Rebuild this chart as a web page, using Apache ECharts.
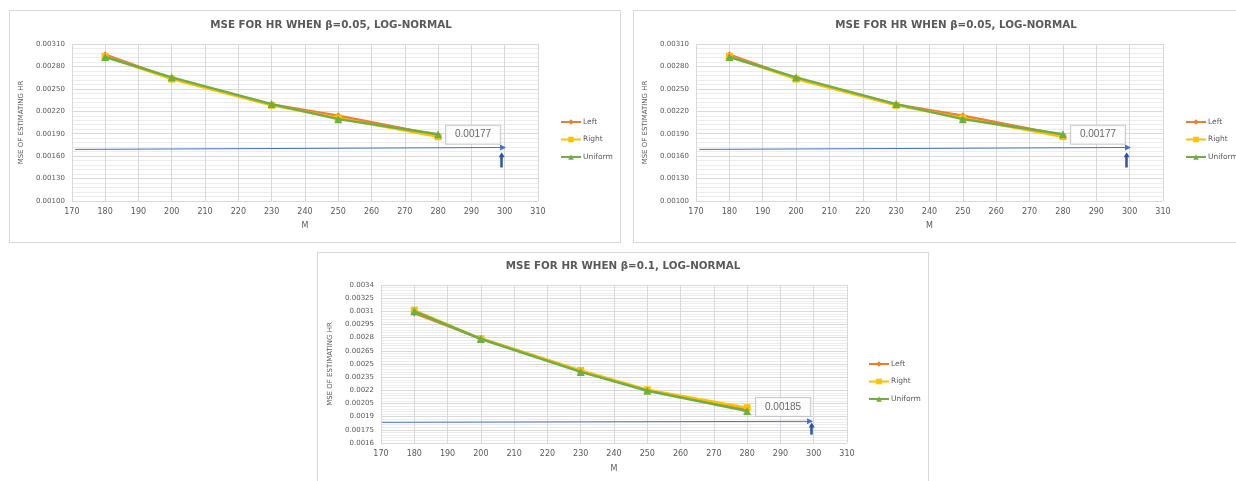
<!DOCTYPE html>
<html>
<head>
<meta charset="utf-8">
<script src="https://cdn.jsdelivr.net/npm/echarts@6/dist/echarts.min.js"></script>
<style>
  html, body { margin: 0; padding: 0; background: #fff; width: 1236px; height: 481px; overflow: hidden; }
  .panel { position: absolute; border: 1px solid #d9d9d9; background: #fff; }
</style>
</head>
<body>
<div id="p1" class="panel" style="left:9px;top:10px;width:610px;height:231px;"></div>
<div id="p2" class="panel" style="left:633px;top:10px;width:604px;height:231px;"></div>
<div id="p3" class="panel" style="left:317px;top:252px;width:610px;height:240px;"></div>
<script>
// ---- data ----
const mValues = [180, 200, 230, 250, 280];
const seriesNames = ['Left', 'Right', 'Uniform'];

const leftBeta005    = [0.002957, 0.00264, 0.00229, 0.00214, 0.00188];
const rightBeta005   = [0.002935, 0.00263, 0.00228, 0.00211, 0.00186];
const uniformBeta005 = [0.002926, 0.002654, 0.002296, 0.002095, 0.001894];

const leftBeta01    = [0.00308, 0.00279, 0.00242, 0.0022, 0.00198];
const rightBeta01   = [0.003112, 0.00279, 0.002426, 0.002206, 0.002002];
const uniformBeta01 = [0.0031, 0.002785, 0.00241, 0.002195, 0.001964];

const titleBeta005 = 'MSE FOR HR WHEN β=0.05, LOG-NORMAL';
const titleBeta01  = 'MSE FOR HR WHEN β=0.1, LOG-NORMAL';
const yAxisTitle = 'MSE OF ESTIMATING HR';
const xAxisTitle = 'M';

// annotation (target line, arrow, value box) in data units
const targetLabelBeta005 = '0.00177';
const targetLineBeta005 = [[171, 0.00169], [299.5, 0.001716]];
const upArrowBeta005 = [[299.1, 0.001448], [299.1, 0.001617]];
const labelPosBeta005 = [290.5, 0.001887];

const targetLabelBeta01 = '0.00185';
const targetLineBeta01 = [[170.3, 0.001836], [298.9, 0.001847]];
const upArrowBeta01 = [[299.4, 0.001695], [299.4, 0.001805]];
const labelPosBeta01 = [290.8, 0.00201];

const yRangeBeta005 = [0.001, 0.0031, 0.0003];
const yRangeBeta01 = [0.0016, 0.0034, 0.00015];

// ---- styles ----
const colors = ['#ED7D31', '#FFC000', '#70AD47'];
const symbols = ['diamond', 'rect', 'triangle'];
const symbolSizes = [7, 7, 8];
const txt = '#595959';

function build(cfg) {
  const lineSeries = seriesNames.map((name, i) => ({
    name: name,
    type: 'line',
    data: mValues.map((m, j) => [m, cfg.values[i][j]]),
    symbol: symbols[i],
    symbolSize: symbolSizes[i],
    showAllSymbol: true,
    lineStyle: { color: colors[i], width: 2.5 },
    itemStyle: { color: colors[i] },
    z: 3 + i,
    animation: false
  }));
  const helper = {
    type: 'scatter',
    name: 'annot',
    data: [cfg.labelPos],
    symbolSize: 0,
    z: 10,
    animation: false,
    silent: true,
    label: {
      show: true,
      position: 'inside',
      formatter: cfg.targetLabel,
      fontFamily: 'Liberation Sans',
      fontSize: 10,
      color: '#404040',
      backgroundColor: '#fff',
      borderColor: '#bfbfbf',
      borderWidth: 1,
      padding: [4, 9, 4, 9]
    },
    markLine: {
      silent: true,
      animation: false,
      symbol: ['none', 'triangle'],
      symbolSize: [6, 6],
      label: { show: false },
      lineStyle: { color: '#4472C4', width: 1, type: 'solid' },
      data: [[{ coord: cfg.targetLine[0] }, { coord: cfg.targetLine[1] }]]
    }
  };
  const helper2 = {
    type: 'scatter',
    name: 'arrow',
    data: [],
    z: 10,
    animation: false,
    silent: true,
    markLine: {
      silent: true,
      animation: false,
      symbol: ['none', 'triangle'],
      symbolSize: [6, 5],
      label: { show: false },
      lineStyle: { color: '#2F5597', width: 2.5, type: 'solid' },
      data: [[{ coord: cfg.upArrow[0] }, { coord: cfg.upArrow[1] }]]
    }
  };
  return {
    animation: false,
    textStyle: { fontFamily: 'DejaVu Sans' },
    graphic: [{
      type: 'text',
      x: cfg.titleX,
      y: cfg.titleY,
      style: {
        text: cfg.title,
        fill: txt,
        font: 'bold 10.3px "DejaVu Sans"',
        textAlign: 'center',
        textVerticalAlign: 'middle'
      }
    }],
    legend: {
      data: seriesNames,
      orient: 'vertical',
      left: cfg.legendLeft,
      top: cfg.legendTop,
      itemWidth: 20,
      itemHeight: 7,
      itemGap: 9.5,
      padding: 0,
      textStyle: { fontSize: 7.5, color: txt, fontFamily: 'DejaVu Sans', padding: [0, 0, 0, -3] }
    },
    grid: {
      left: cfg.grid[0], top: cfg.grid[1], width: cfg.grid[2], height: cfg.grid[3],
      containLabel: false
    },
    xAxis: {
      type: 'value',
      min: 170, max: 310, interval: 10,
      name: xAxisTitle,
      nameLocation: 'middle',
      nameGap: cfg.xNameGap,
      nameTextStyle: { fontSize: 8, color: txt, fontFamily: 'DejaVu Sans' },
      axisLine: { show: false },
      axisTick: { show: false },
      axisLabel: { fontSize: 8, color: txt, margin: 7, fontFamily: 'DejaVu Sans' },
      splitLine: { show: true, lineStyle: { color: '#d9d9d9', width: 1 } }
    },
    yAxis: {
      type: 'value',
      min: cfg.yRange[0], max: cfg.yRange[1], interval: cfg.yRange[2],
      name: yAxisTitle,
      nameLocation: 'middle',
      nameGap: cfg.yNameGap,
      nameRotate: 90,
      nameTextStyle: { fontSize: 7, color: txt, fontFamily: 'DejaVu Sans' },
      axisLine: { show: false },
      axisTick: { show: false },
      minorTick: { show: false, splitNumber: 5 },
      minorSplitLine: { show: true, lineStyle: { color: '#ededed', width: 1 } },
      axisLabel: {
        fontSize: 7, color: txt, margin: 7, fontFamily: 'DejaVu Sans',
        formatter: cfg.yFormatter
      },
      splitLine: { show: true, lineStyle: { color: '#d9d9d9', width: 1 } }
    },
    series: lineSeries.concat([helper, helper2])
  };
}

const fmt5 = v => v.toFixed(5);
const fmtGeneral = v => String(parseFloat(v.toFixed(6)));

const cfgTop = {
  values: [leftBeta005, rightBeta005, uniformBeta005],
  title: titleBeta005, titleX: 321, titleY: 14,
  legendLeft: 550, legendTop: 107,
  grid: [61, 33, 467, 157],
  xNameGap: 21, yNameGap: 41,
  yRange: yRangeBeta005, yFormatter: fmt5,
  targetLabel: targetLabelBeta005, targetLine: targetLineBeta005,
  upArrow: upArrowBeta005, labelPos: labelPosBeta005
};

const c1 = echarts.init(document.getElementById('p1'), null, { renderer: 'canvas' });
c1.setOption(build(cfgTop));

const c2 = echarts.init(document.getElementById('p2'), null, { renderer: 'canvas' });
c2.setOption(build(Object.assign({}, cfgTop, { titleX: 322, legendLeft: 551, grid: [62, 33, 467, 157] })));

const c3 = echarts.init(document.getElementById('p3'), null, { renderer: 'canvas' });
c3.setOption(build({
  values: [leftBeta01, rightBeta01, uniformBeta01],
  title: titleBeta01, titleX: 305, titleY: 13,
  legendLeft: 550, legendTop: 107,
  grid: [63, 32, 466, 158],
  xNameGap: 22, yNameGap: 42,
  yRange: yRangeBeta01, yFormatter: fmtGeneral,
  targetLabel: targetLabelBeta01, targetLine: targetLineBeta01,
  upArrow: upArrowBeta01, labelPos: labelPosBeta01
}));
</script>
</body>
</html>
